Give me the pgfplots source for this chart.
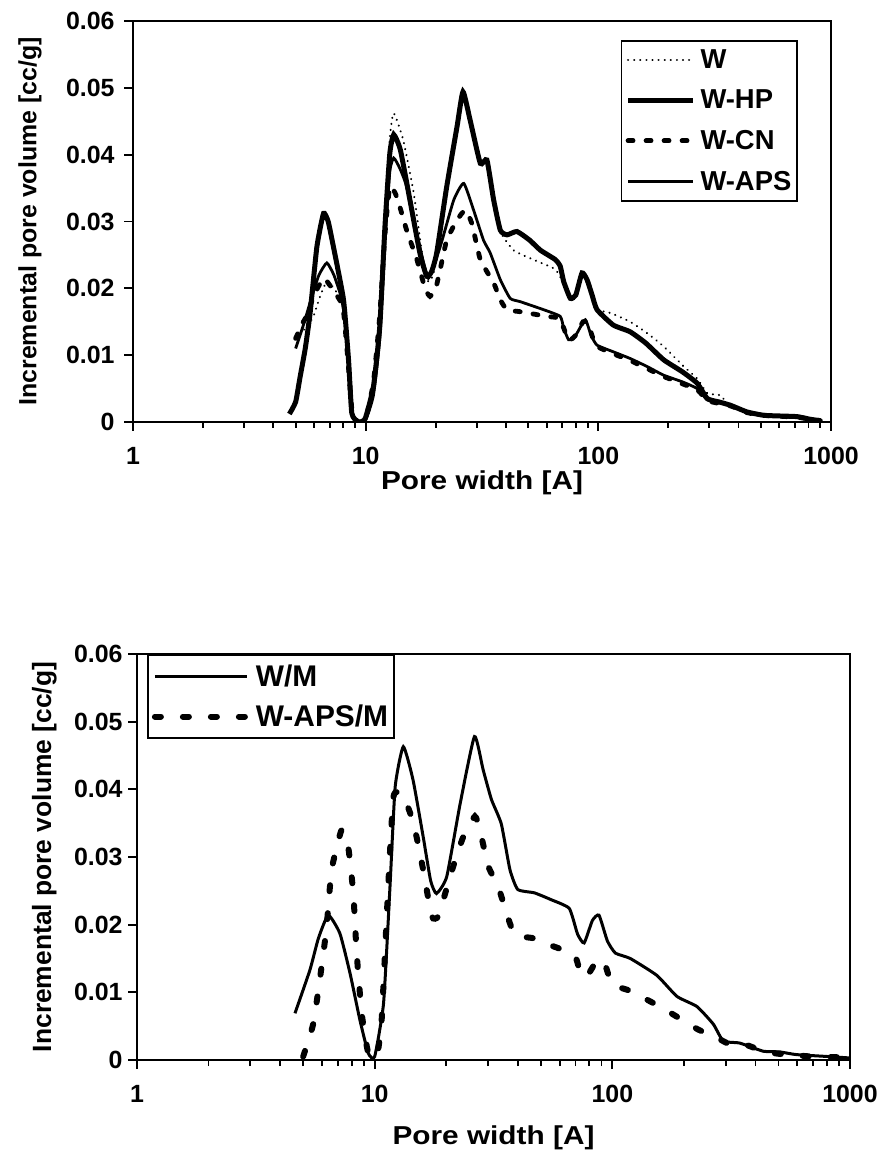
\documentclass[border=0pt]{standalone}
\usepackage{fontspec}
\setmainfont{Liberation Sans}
\newfontfamily\lblfont[FakeStretch=1.15]{Liberation Sans}
\usepackage{pgfplots}
\pgfplotsset{compat=1.18}
\usepackage{pgfplotstable}

\pgfplotstableread{
x y
4.7 0.0012
5.0 0.003
5.23 0.0068
5.5 0.011
5.77 0.0163
6.17 0.0262
6.59 0.0312
6.9 0.030
7.27 0.0262
8.03 0.0183
8.44 0.0093
8.72 0.0013
9.3 0.0
9.95 0.0005
10.8 0.0053
11.5 0.0143
12.1 0.0292
12.7 0.0402
13.2 0.043
14.1 0.0407
15.5 0.0332
17.1 0.0253
18.3 0.0218
19.2 0.0225
20.2 0.0253
22.3 0.0352
24.7 0.0442
26.2 0.0494
28.1 0.0452
31.1 0.0387
33.2 0.0392
35.5 0.0332
37.9 0.0287
40.5 0.028
44.7 0.0285
50.7 0.0272
56.4 0.0257
65.3 0.0243
68.6 0.0233
71 0.021
75.8 0.0185
80 0.019
85.1 0.0223
89.4 0.0213
94 0.019
98.7 0.0168
116 0.0145
137 0.0135
160 0.0118
191 0.0093
230 0.0075
266 0.0058
294 0.0035
330 0.003
370 0.0025
436 0.0015
514 0.001
600 0.0009
716 0.0008
816 0.0004
900 0.0002
}\tWHP

\pgfplotstableread{
x y
5.0 0.0125
5.5 0.014
5.96 0.0158
6.4 0.019
6.81 0.021
7.3 0.020
8.0 0.0175
8.5 0.009
8.8 0.0015
9.3 0.0
9.95 0.0005
10.8 0.005
11.5 0.015
12.1 0.030
12.7 0.0425
13.2 0.0462
14.5 0.0422
16.1 0.0342
17.7 0.0238
18.6 0.021
19.5 0.022
20.5 0.026
22.3 0.035
24.7 0.0442
26.2 0.049
28.1 0.045
31.1 0.0387
33.2 0.039
35.5 0.033
37.9 0.0285
43.2 0.0257
52.5 0.0243
64.3 0.023
68 0.022
71 0.0205
75.8 0.0183
80 0.019
85 0.022
89 0.021
94 0.019
100 0.0168
113 0.0163
137 0.015
162 0.0133
191 0.0113
233 0.0083
266 0.0065
294 0.0043
335 0.004
360 0.0027
436 0.0015
514 0.001
716 0.0008
900 0.0002
}\tW

\pgfplotstableread{
x y
5.0 0.0125
5.3 0.0145
5.6 0.016
6.0 0.019
6.59 0.0215
7.0 0.0205
7.5 0.019
8.0 0.017
8.4 0.009
8.75 0.0015
9.3 0.0
10.0 0.0005
10.8 0.006
11.5 0.016
12.1 0.028
12.7 0.0352
13.6 0.0337
15.0 0.0287
16.6 0.0243
18.0 0.020
18.9 0.0188
20.0 0.020
20.9 0.0228
22.3 0.0272
24.7 0.0302
26.8 0.0317
28.6 0.0297
31.1 0.0243
35.5 0.0208
37.9 0.0183
40.5 0.0168
46.2 0.0165
60.1 0.0158
68 0.0155
72 0.0135
75 0.0122
80 0.013
86 0.015
90 0.0148
96 0.012
100 0.0112
116 0.0102
137 0.0092
162 0.008
191 0.0068
266 0.0048
294 0.0032
370 0.0024
436 0.0014
514 0.001
716 0.0007
900 0.0002
}\tWCN

\pgfplotstableread{
x y
5.0 0.011
5.4 0.0145
5.9 0.019
6.3 0.022
6.81 0.0238
7.3 0.022
7.8 0.019
8.1 0.016
8.45 0.009
8.75 0.0015
9.3 0.0
10.0 0.0003
10.8 0.004
11.5 0.0125
12.1 0.027
12.7 0.0375
13.2 0.0395
14.0 0.038
15.0 0.0352
17.1 0.0262
18.6 0.0215
20.9 0.0262
23.9 0.0332
26.4 0.0357
29.1 0.0317
32.1 0.0272
34.3 0.0253
37.9 0.0213
41.8 0.0185
46.2 0.018
58.2 0.0168
68.6 0.0158
71 0.014
74.5 0.0123
78 0.0125
81 0.0133
87.9 0.0153
93 0.013
98.7 0.0115
116 0.0105
137 0.0095
162 0.0083
191 0.007
230 0.006
266 0.005
294 0.0033
330 0.003
370 0.0025
436 0.0015
514 0.001
716 0.0008
900 0.0002
}\tWAPS

\pgfplotstableread{
x y
4.62 0.0069
5.34 0.0133
5.8 0.018
6.38 0.0214
7.14 0.0187
7.88 0.0128
8.67 0.0059
9.4 0.001
10.0 0.0005
10.9 0.0084
11.6 0.0256
12.2 0.0404
13.2 0.0463
14.5 0.0414
16.0 0.033
17.2 0.0265
18.2 0.0246
20.1 0.0271
22.9 0.0379
26.3 0.0478
28.6 0.0429
31.0 0.0385
34.1 0.0349
37.1 0.0281
40.0 0.0252
47.0 0.0247
55.2 0.0237
65.9 0.0224
71.4 0.0186
76.1 0.0173
82.4 0.0206
87.9 0.0214
95.3 0.0176
103 0.0158
119 0.015
154 0.0125
187 0.0094
227 0.0079
266 0.0053
293 0.0028
344 0.0025
431 0.0013
506 0.0012
594 0.0008
819 0.0005
1000 0.0003
}\tWM

\pgfplotstableread{
x y
5.0 0.0005
5.52 0.0054
5.98 0.0138
6.28 0.0197
6.59 0.0281
7.26 0.034
7.74 0.0315
8.13 0.0246
8.4 0.0158
8.82 0.0069
9.4 0.001
10.2 0.0005
10.7 0.0059
11.4 0.0256
12.0 0.0389
13.0 0.0394
14.1 0.0365
15.0 0.033
16.0 0.0281
17.4 0.0212
18.5 0.0212
19.8 0.0246
21.4 0.0286
23.6 0.033
26.4 0.036
27.7 0.034
30.1 0.0286
33.1 0.0256
35.9 0.0217
38.9 0.0185
46.5 0.018
53.5 0.0171
69.2 0.0155
73.8 0.0125
78.6 0.0125
86.5 0.0148
92.3 0.0145
100 0.0112
119 0.0102
164 0.0076
227 0.0046
275 0.0033
313 0.0023
367 0.0022
431 0.0013
506 0.0009
700 0.0005
1000 0.0004
}\tWAPSM

\pgfplotsset{
  legtop/.style={legend image code/.code={\draw[##1] (0bp,0bp) -- (65bp,0bp); \path (68bp,0bp);}},
  legbot/.style={legend image code/.code={\draw[##1] (0bp,0bp) -- (92bp,0bp); \path (96bp,0bp);}},
}

\begin{document}
\begin{tikzpicture}
\useasboundingbox (0,0) rectangle (885bp,1162bp);
% top
\begin{axis}[
  xmode=log, xmin=1, xmax=1000, ymin=0, ymax=0.06,
  scale only axis,
  at={(133bp,740bp)}, anchor=south west,
  width=698bp, height=401bp,
  axis line style={line width=2.8bp},
  tick style={line width=1.8bp, black},
  major tick length=9bp, minor tick length=6bp,
  tick align=outside, xtick pos=bottom, ytick pos=left,
  scaled y ticks=false,
  xtick={1,10,100,1000}, xticklabels={1,10,100,1000},
  minor xtick={2,3,4,5,6,7,8,9,20,30,40,50,60,70,80,90,200,300,400,500,600,700,800,900},
  ytick={0,0.01,0.02,0.03,0.04,0.05,0.06},
  yticklabels={0,0.01,0.02,0.03,0.04,0.05,0.06},
  tick label style={font=\fontsize{25}{25}\selectfont\bfseries},
  xticklabel style={yshift=-13bp},
  yticklabel style={xshift=-6bp},
  xlabel={Pore width [A]},
  ylabel={Incremental pore volume [cc/g]},
  xlabel style={font=\lblfont\fontsize{26}{26}\selectfont\bfseries, anchor=center,
    at={(axis description cs:0.5,-0.152)}},
  ylabel style={at={(axis description cs:-0.1476,0.5)}, anchor=center,
    font=\fontsize{25}{25}\selectfont\bfseries},
  legend cell align=left,
  legtop,
  legend style={at={(0.953,0.953)}, anchor=north east, draw=black, line width=1.8bp,
    font=\fontsize{27.5}{27.5}\selectfont\bfseries, row sep=16bp,
    inner xsep=4bp, inner ysep=7bp},
]
\addplot[black, line width=2.2bp, line cap=round, dash pattern=on 0.1bp off 6bp, smooth, tension=0.3] table {\tW};
\addlegendentry{W}
\addplot[black, line width=5bp, smooth, tension=0.3] table {\tWHP};
\addlegendentry{W-HP}
\addplot[black, line width=4.8bp, line cap=round, dash pattern=on 5bp off 13bp, smooth, tension=0.3] table {\tWCN};
\addlegendentry{W-CN}
\addplot[black, line width=2.8bp, smooth, tension=0.3] table {\tWAPS};
\addlegendentry{W-APS}
\end{axis}
% bottom
\begin{axis}[
  xmode=log, xmin=1, xmax=1000, ymin=0, ymax=0.06,
  scale only axis,
  at={(137bp,102bp)}, anchor=south west,
  width=713bp, height=406bp,
  axis line style={line width=2.8bp},
  tick style={line width=1.8bp, black},
  major tick length=9bp, minor tick length=6bp,
  tick align=outside, xtick pos=bottom, ytick pos=left,
  scaled y ticks=false,
  xtick={1,10,100,1000}, xticklabels={1,10,100,1000},
  minor xtick={2,3,4,5,6,7,8,9,20,30,40,50,60,70,80,90,200,300,400,500,600,700,800,900},
  ytick={0,0.01,0.02,0.03,0.04,0.05,0.06},
  yticklabels={0,0.01,0.02,0.03,0.04,0.05,0.06},
  tick label style={font=\fontsize{25}{25}\selectfont\bfseries},
  xticklabel style={yshift=-13bp},
  yticklabel style={xshift=-2bp},
  xlabel={Pore width [A]},
  ylabel={Incremental pore volume [cc/g]},
  xlabel style={font=\lblfont\fontsize{26}{26}\selectfont\bfseries, anchor=center,
    at={(axis description cs:0.5,-0.192)}},
  ylabel style={at={(axis description cs:-0.130,0.5)}, anchor=center,
    font=\fontsize{26.5}{26.5}\selectfont\bfseries},
  legend cell align=left,
  legbot,
  legend style={at={(0.014,1)}, anchor=north west, draw=black, line width=1.8bp,
    font=\fontsize{30}{30}\selectfont\bfseries, row sep=13bp,
    inner xsep=4bp, inner ysep=8bp},
]
\addplot[black, line width=3bp, smooth, tension=0.3] table {\tWM};
\addlegendentry{W/M}
\addplot[black, line width=6bp, line cap=round, dash pattern=on 6bp off 22bp, smooth, tension=0.3] table {\tWAPSM};
\addlegendentry{W-APS/M}
\end{axis}
\end{tikzpicture}
\end{document}
